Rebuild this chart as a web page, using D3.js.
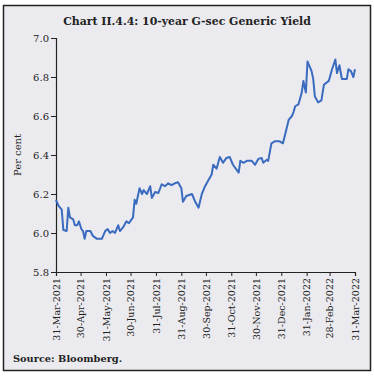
<!DOCTYPE html>
<html lang="en">
    <head>
        <meta charset="utf-8">
        <title>10-year G-sec Generic Yield</title>
        <script type="text/javascript" src="https://d3js.org/d3.v7.min.js"></script>
        <style type="text/css">
            body { margin: 0; background: #fff; }
            text { font-family: "DejaVu Serif", serif; fill: #222; }
        </style>
    </head>
    <body>
        <div id="chart"></div>
        <script type="text/javascript">
            // yield readings (per cent) with their dates
            const dates = [
                "2021-03-31", "2021-04-01", "2021-04-03", "2021-04-05", "2021-04-07", "2021-04-09", "2021-04-13", "2021-04-15",
                "2021-04-17", "2021-04-21", "2021-04-23", "2021-04-26", "2021-04-28", "2021-05-01", "2021-05-03",
                "2021-05-05", "2021-05-07", "2021-05-12", "2021-05-15", "2021-05-20", "2021-05-26", "2021-05-30",
                "2021-06-02", "2021-06-05", "2021-06-08", "2021-06-11", "2021-06-15", "2021-06-17", "2021-06-21",
                "2021-06-25", "2021-06-28", "2021-07-03", "2021-07-05", "2021-07-07", "2021-07-11", "2021-07-14",
                "2021-07-16", "2021-07-20", "2021-07-24", "2021-07-26", "2021-07-30", "2021-08-03", "2021-08-07",
                "2021-08-11", "2021-08-15", "2021-08-19", "2021-08-23", "2021-08-27", "2021-08-31", "2021-09-02",
                "2021-09-06", "2021-09-13", "2021-09-17", "2021-09-21", "2021-09-25", "2021-09-29", "2021-10-03",
                "2021-10-07", "2021-10-09", "2021-10-13", "2021-10-17", "2021-10-21", "2021-10-25", "2021-10-29",
                "2021-11-02", "2021-11-09", "2021-11-11", "2021-11-15", "2021-11-19", "2021-11-25", "2021-11-29",
                "2021-12-03", "2021-12-07", "2021-12-09", "2021-12-13", "2021-12-15", "2021-12-19", "2021-12-23",
                "2021-12-29", "2022-01-02", "2022-01-05", "2022-01-09", "2022-01-13", "2022-01-15", "2022-01-17",
                "2022-01-21", "2022-01-25", "2022-01-27", "2022-01-30", "2022-02-01", "2022-02-02", "2022-02-06",
                "2022-02-08", "2022-02-10", "2022-02-14", "2022-02-18", "2022-02-21", "2022-02-27", "2022-03-03",
                "2022-03-07", "2022-03-09", "2022-03-12", "2022-03-15", "2022-03-21", "2022-03-23", "2022-03-26",
                "2022-03-29", "2022-03-31"
            ];
            const yields = [
                6.17, 6.16, 6.14, 6.13, 6.12, 6.015, 6.01, 6.13,
                6.08, 6.07, 6.04, 6.04, 6.06, 6.02, 6.01,
                5.97, 6.01, 6.01, 5.985, 5.97, 5.97, 6.01,
                6.02, 6.00, 6.01, 6.00, 6.04, 6.01, 6.03,
                6.06, 6.05, 6.08, 6.17, 6.15, 6.23, 6.20,
                6.22, 6.20, 6.24, 6.18, 6.21, 6.205, 6.25,
                6.24, 6.255, 6.245, 6.255, 6.26, 6.23, 6.16,
                6.19, 6.20, 6.16, 6.13, 6.20, 6.24, 6.27,
                6.30, 6.35, 6.33, 6.39, 6.36, 6.385, 6.39,
                6.35, 6.31, 6.37, 6.36, 6.37, 6.37, 6.35,
                6.38, 6.385, 6.36, 6.375, 6.37, 6.46, 6.47,
                6.47, 6.46, 6.51, 6.58, 6.60, 6.62, 6.65,
                6.66, 6.72, 6.78, 6.72, 6.88, 6.87, 6.83,
                6.79, 6.70, 6.67, 6.68, 6.76, 6.78, 6.84,
                6.89, 6.82, 6.86, 6.79, 6.79, 6.84, 6.83,
                6.80, 6.84
            ];
            const tickDates = [
                "2021-03-31", "2021-04-30", "2021-05-31", "2021-06-30", "2021-07-31", "2021-08-31",
                "2021-09-30", "2021-10-31", "2021-11-30", "2021-12-31", "2022-01-31", "2022-02-28", "2022-03-31"
            ];
            const yTicks = [5.8, 6.0, 6.2, 6.4, 6.6, 6.8, 7.0];

            const parse = d3.timeParse("%Y-%m-%d");
            const data = dates.map((d, i) => ({date: parse(d), value: yields[i]}));

            const W = 374, H = 376;
            const margin = {top: 38, right: 19, bottom: 104, left: 56};
            const width = W - margin.left - margin.right;
            const height = H - margin.top - margin.bottom;

            const svg = d3.select("#chart")
                .append("svg")
                .attr("width", W)
                .attr("height", H);

            // panel box
            svg.append("rect")
                .attr("x", 3.5).attr("y", 5.5)
                .attr("width", 367).attr("height", 365)
                .attr("fill", "#ebebef")
                .attr("stroke", "#222")
                .attr("stroke-width", 1.5);

            svg.append("text")
                .attr("x", 187).attr("y", 25)
                .attr("text-anchor", "middle")
                .style("font-size", "10.9px")
                .style("font-weight", "bold")
                .text("Chart II.4.4: 10-year G-sec Generic Yield");

            const xScale = d3.scaleTime()
                .domain([parse("2021-03-31"), parse("2022-03-31")])
                .range([0, width]);
            const yScale = d3.scaleLinear()
                .domain([5.8, 7.0])
                .range([height, 0]);

            const g = svg.append("g")
                .attr("transform", "translate(" + margin.left + "," + margin.top + ")");

            const xAxis = d3.axisBottom(xScale)
                .tickValues(tickDates.map(parse))
                .tickFormat(d3.timeFormat("%d-%b-%Y"))
                .tickSize(4);
            const yAxis = d3.axisLeft(yScale)
                .tickValues(yTicks)
                .tickFormat(d3.format(".1f"))
                .tickSize(5);

            const gx = g.append("g")
                .attr("transform", "translate(0," + height + ")")
                .call(xAxis);
            gx.selectAll("text")
                .attr("transform", "rotate(-90)")
                .attr("text-anchor", "end")
                .attr("x", -6).attr("y", 0)
                .attr("dy", "0.35em")
                .style("font-size", "9.5px");

            const gy = g.append("g").call(yAxis);
            gy.selectAll("text")
                .attr("x", -7)
                .style("font-size", "10px");

            [gx, gy].forEach(a => {
                a.select(".domain").attr("stroke", "#222").attr("stroke-width", 1.2);
                a.selectAll(".tick line").attr("stroke", "#222");
                a.selectAll("text").attr("fill", "#222");
            });

            svg.append("text")
                .attr("transform", "translate(21," + (margin.top + height / 2) + ") rotate(-90)")
                .attr("text-anchor", "middle")
                .style("font-size", "10px")
                .text("Per cent");

            const line = d3.line()
                .x(d => xScale(d.date))
                .y(d => yScale(d.value));

            g.append("path")
                .datum(data)
                .attr("fill", "none")
                .attr("stroke", "#3a6bbf")
                .attr("stroke-width", 2)
                .attr("stroke-linejoin", "round")
                .attr("d", line);

            svg.append("text")
                .attr("x", 13).attr("y", 362)
                .style("font-size", "9.8px")
                .style("font-weight", "bold")
                .text("Source: Bloomberg.");
        </script>
    </body>
</html>
